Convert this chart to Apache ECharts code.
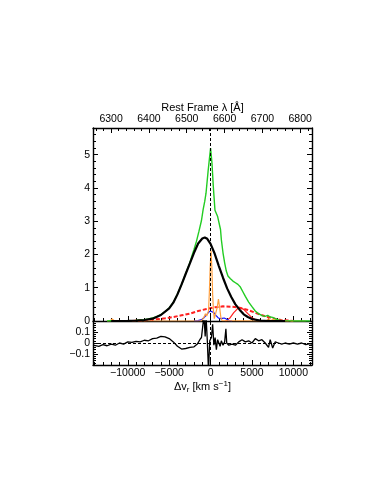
<!DOCTYPE html>
<html>
<head>
<meta charset="utf-8">
<script src="https://cdn.jsdelivr.net/npm/echarts@6/dist/echarts.min.js"></script>
<style>
html, body { margin: 0; padding: 0; background: #fff; }
#main { width: 382px; height: 494px; }
</style>
</head>
<body>
<div id="main"></div>
<script>
var C = 299792.458, lam0 = 6563;
var vMin = -14200, vMax = 12250;

// tick labels
var velTicks = [-10000, -5000, 0, 5000, 10000];
var lamTicks = [6300, 6400, 6500, 6600, 6700, 6800];
var fluxTicks = [0, 1, 2, 3, 4, 5];
var resTicks = [-0.1, 0, 0.1];

// observed spectrum (km/s, flux)
var observed = [[-12500,0.0],[-12000,0.01],[-11000,0.0],[-10000,0.01],[-9000,0.015],[-8500,0.03],[-8000,0.04],
  [-7500,0.06],[-7000,0.09],[-6500,0.13],[-6000,0.19],[-5500,0.28],[-5000,0.39],[-4500,0.56],[-4000,0.81],
  [-3500,1.1],[-3000,1.43],[-2500,1.76],[-2200,2.0],[-2000,2.15],[-1700,2.4],[-1400,2.7],[-1100,3.02],[-900,3.35],
  [-700,3.6],[-550,3.84],[-300,4.5],[-150,4.85],[0,5.2],[170,4.74],[330,4.04],[530,3.33],[840,3.15],[1050,3.1],
  [1200,2.75],[1300,2.45],[1500,2.05],[1700,1.75],[1900,1.5],[2100,1.35],[2400,1.27],[2700,1.2],[3000,1.15],
  [3300,1.1],[3600,1.02],[3900,0.88],[4200,0.74],[4600,0.57],[5000,0.43],[5400,0.3],[5800,0.22],[6200,0.16],
  [6600,0.14],[6900,0.17],[7200,0.12],[7500,0.11],[7800,0.07],[8200,0.03],[8600,0.01],[10000,0.0],[12000,0.0]];

// broad gaussian component
var broadFit = [[-12000,0.0],[-10000,0.005],[-9000,0.01],[-8000,0.03],[-7000,0.07],[-6000,0.18],[-5000,0.38],
  [-4500,0.55],[-4000,0.8],[-3500,1.1],[-3000,1.42],[-2500,1.73],[-2000,2.05],[-1500,2.33],[-1000,2.48],
  [-700,2.51],[-400,2.47],[0,2.32],[500,2.02],[1000,1.65],[1500,1.3],[2000,0.98],[2500,0.72],[3000,0.5],
  [3500,0.34],[4000,0.2],[4500,0.12],[5000,0.06],[6000,0.01],[7000,0.0],[9000,0.0]];

// narrow lines
var narrowFit = [[-12500,0.0],[-12150,0.0],[-11880,0.06],[-11600,0.0],[-9250,0.0],[-9000,0.025],[-8750,0.0],
  [-1100,0.0],[-920,0.03],[-770,0.13],[-620,0.22],[-470,0.15],[-350,0.12],[-250,0.3],[-150,0.85],[-50,1.6],
  [50,2.12],[150,1.65],[250,0.8],[350,0.3],[450,0.07],[550,0.02],[650,0.09],[800,0.4],[950,0.66],[1100,0.4],
  [1250,0.09],[1400,0.01],[1600,0.0],[6750,0.0],[6990,0.07],[7250,0.01],[7450,0.0],[7680,0.06],[7950,0.0],[11500,0.0]];

// very broad component (dashed)
var veryBroad = [[-9500,0.0],[-9000,0.01],[-7000,0.04],[-5500,0.08],[-4500,0.12],[-3500,0.17],[-2500,0.22],
  [-1500,0.3],[-500,0.36],[500,0.41],[1500,0.44],[2500,0.43],[3500,0.4],[4500,0.33],[5500,0.24],[6500,0.15],
  [7500,0.08],[8500,0.03],[9500,0.01],[10000,0.0]];

// red-shifted component
var redBump = [[1800,0.0],[2300,0.08],[2800,0.25],[3300,0.38],[3600,0.4],[4000,0.35],[4500,0.22],[5000,0.1],
  [5500,0.03],[6000,0.0]];

// intermediate components
var blueFit = [[-2000,0.0],[-1500,0.01],[-1100,0.04],[-800,0.1],[-500,0.18],[-250,0.26],[0,0.3],[200,0.29],
  [400,0.25],[650,0.17],[900,0.1],[1150,0.07],[1400,0.08],[1650,0.09],[1900,0.06],[2200,0.02],[2600,0.0]];

// residuals
var resid = [[-14200,-0.02],[-13500,-0.03],[-13000,-0.015],[-12500,-0.025],[-12000,-0.01],[-11500,-0.02],
  [-11000,0.0],[-10500,-0.01],[-10000,0.01],[-9500,0.005],[-9000,0.015],[-8500,0.01],[-8000,0.025],[-7500,0.02],
  [-7000,0.04],[-6500,0.045],[-6000,0.06],[-5500,0.055],[-5000,0.04],[-4500,0.01],[-4000,-0.03],[-3500,-0.055],
  [-3000,-0.05],[-2500,-0.04],[-2000,-0.035],[-1600,-0.01],[-1300,0.03],[-1100,0.05],[-900,0.06],[-800,0.25],
  [-650,0.06],[-550,0.25],[-400,0.03],[-250,-0.25],[-100,0.02],[100,0.05],[250,0.17],[400,-0.02],[550,0.05],
  [700,-0.06],[850,0.03],[1000,0.04],[1150,-0.03],[1300,0.02],[1500,-0.02],[1700,0.01],[1850,0.13],[1950,0.0],
  [2200,-0.02],[2600,-0.01],[3000,-0.02],[3400,0.01],[3800,0.03],[4200,0.01],[4600,0.02],[5000,0.0],[5400,0.04],
  [5800,0.02],[6200,0.03],[6600,0.0],[7000,-0.04],[7200,0.03],[7500,-0.045],[7800,0.01],[8200,0.0],[8600,-0.01],
  [9000,0.0],[9500,-0.01],[10000,0.0],[10500,-0.01],[11000,0.0],[11500,-0.015],[12000,-0.005],[12250,-0.01]];

function steps(a, b, d) {
  var out = [];
  for (var i = 0; a + i * d <= b + 1e-9; i++) out.push(Math.round((a + i * d) * 1000) / 1000);
  return out;
}
var velMinor = steps(-14000, 12000, 1000);
var lamMinor = steps(6260, 6820, 20);
var fluxMinor = steps(0, 5.8, 0.2);
var resMinor = steps(-0.2, 0.2, 0.02);

var lamMin = lam0 * (1 + vMin / C), lamMax = lam0 * (1 + vMax / C);
var font = 'Liberation Sans';

function fmt(v) { return String(v).replace('-', '\u2212'); }

function ax(grid, pos, min, max, ticks, len, labels, extra) {
  var a = {
    type: 'value', gridIndex: grid, position: pos, min: min, max: max,
    axisLine: { show: len > 4, onZero: false, lineStyle: { color: '#000', width: 1.4 } },
    axisTick: { show: true, inside: true, length: len, customValues: ticks, lineStyle: { color: '#000', width: 1 } },
    axisLabel: labels ? { show: true, customValues: labels, margin: 3, color: '#000', fontSize: 10.5,
      fontFamily: font, formatter: fmt } : { show: false },
    splitLine: { show: false }
  };
  return Object.assign(a, extra || {});
}

var chart = echarts.init(document.getElementById('main'));
var line = function (data, color, width, type, xi, yi) {
  return { type: 'line', data: data, xAxisIndex: xi || 0, yAxisIndex: yi || 0, showSymbol: false, symbol: 'none',
    lineStyle: { color: color, width: width, type: type || 'solid' }, animation: false, silent: true };
};

var fitLine = line(broadFit, '#000', 2.2);
fitLine.markLine = { silent: true, symbol: 'none', label: { show: false }, animation: false,
  lineStyle: { color: '#000', width: 1, type: [3, 2] }, data: [{ xAxis: 0 }] };
var resLine = line(resid, '#000', 1.3, 'solid', 4, 4);
resLine.markLine = { silent: true, symbol: 'none', label: { show: false }, animation: false,
  lineStyle: { color: '#000', width: 1, type: [3, 2] }, data: [{ yAxis: 0 }, { xAxis: 0 }] };

chart.setOption({
  backgroundColor: '#fff',
  grid: [
    { left: 93, top: 128, width: 219, height: 193 },
    { left: 93, top: 321, width: 219, height: 44 }
  ],
  xAxis: [
    ax(0, 'bottom', vMin, vMax, velTicks, 5, null),
    ax(0, 'bottom', vMin, vMax, velMinor, 3, null),
    ax(0, 'top', lamMin, lamMax, lamTicks, 5, lamTicks, {
      name: 'Rest Frame \u03bb [\u00c5]', nameLocation: 'middle', nameGap: 15,
      nameTextStyle: { color: '#000', fontSize: 11, fontFamily: font } }),
    ax(0, 'top', lamMin, lamMax, lamMinor, 3, null),
    ax(1, 'bottom', vMin, vMax, velTicks, 5, velTicks, {
      name: '{a|\u0394v}{sub|r}{a| [km s}{sup|\u22121}{a|]}', nameLocation: 'middle', nameGap: 14,
      nameTextStyle: { color: '#000', fontFamily: font, rich: {
        a: { fontSize: 11, fontFamily: font, color: '#000' },
        sub: { fontSize: 8, fontFamily: font, color: '#000', padding: [6, 0, 0, 0] },
        sup: { fontSize: 8, fontFamily: font, color: '#000', padding: [0, 0, 6, 0] }
      } } }),
    ax(1, 'bottom', vMin, vMax, velMinor, 3, null)
  ],
  yAxis: [
    ax(0, 'left', 0, 5.8, fluxTicks, 5, fluxTicks),
    ax(0, 'left', 0, 5.8, fluxMinor, 3, null),
    ax(0, 'right', 0, 5.8, fluxTicks, 5, null),
    ax(0, 'right', 0, 5.8, fluxMinor, 3, null),
    ax(1, 'left', -0.2, 0.2, resTicks, 5, resTicks),
    ax(1, 'left', -0.2, 0.2, resMinor, 3, null),
    ax(1, 'right', -0.2, 0.2, resTicks, 5, null),
    ax(1, 'right', -0.2, 0.2, resMinor, 3, null)
  ],
  series: [
    line(veryBroad, '#ff2020', 2, [4, 2]),
    line(redBump, '#ff2020', 1.2),
    line(blueFit, '#1010ff', 1.2),
    line(narrowFit, '#ffa040', 1.2),
    line(observed, '#22cc22', 1.4),
    fitLine,
    resLine
  ]
});
</script>
</body>
</html>
